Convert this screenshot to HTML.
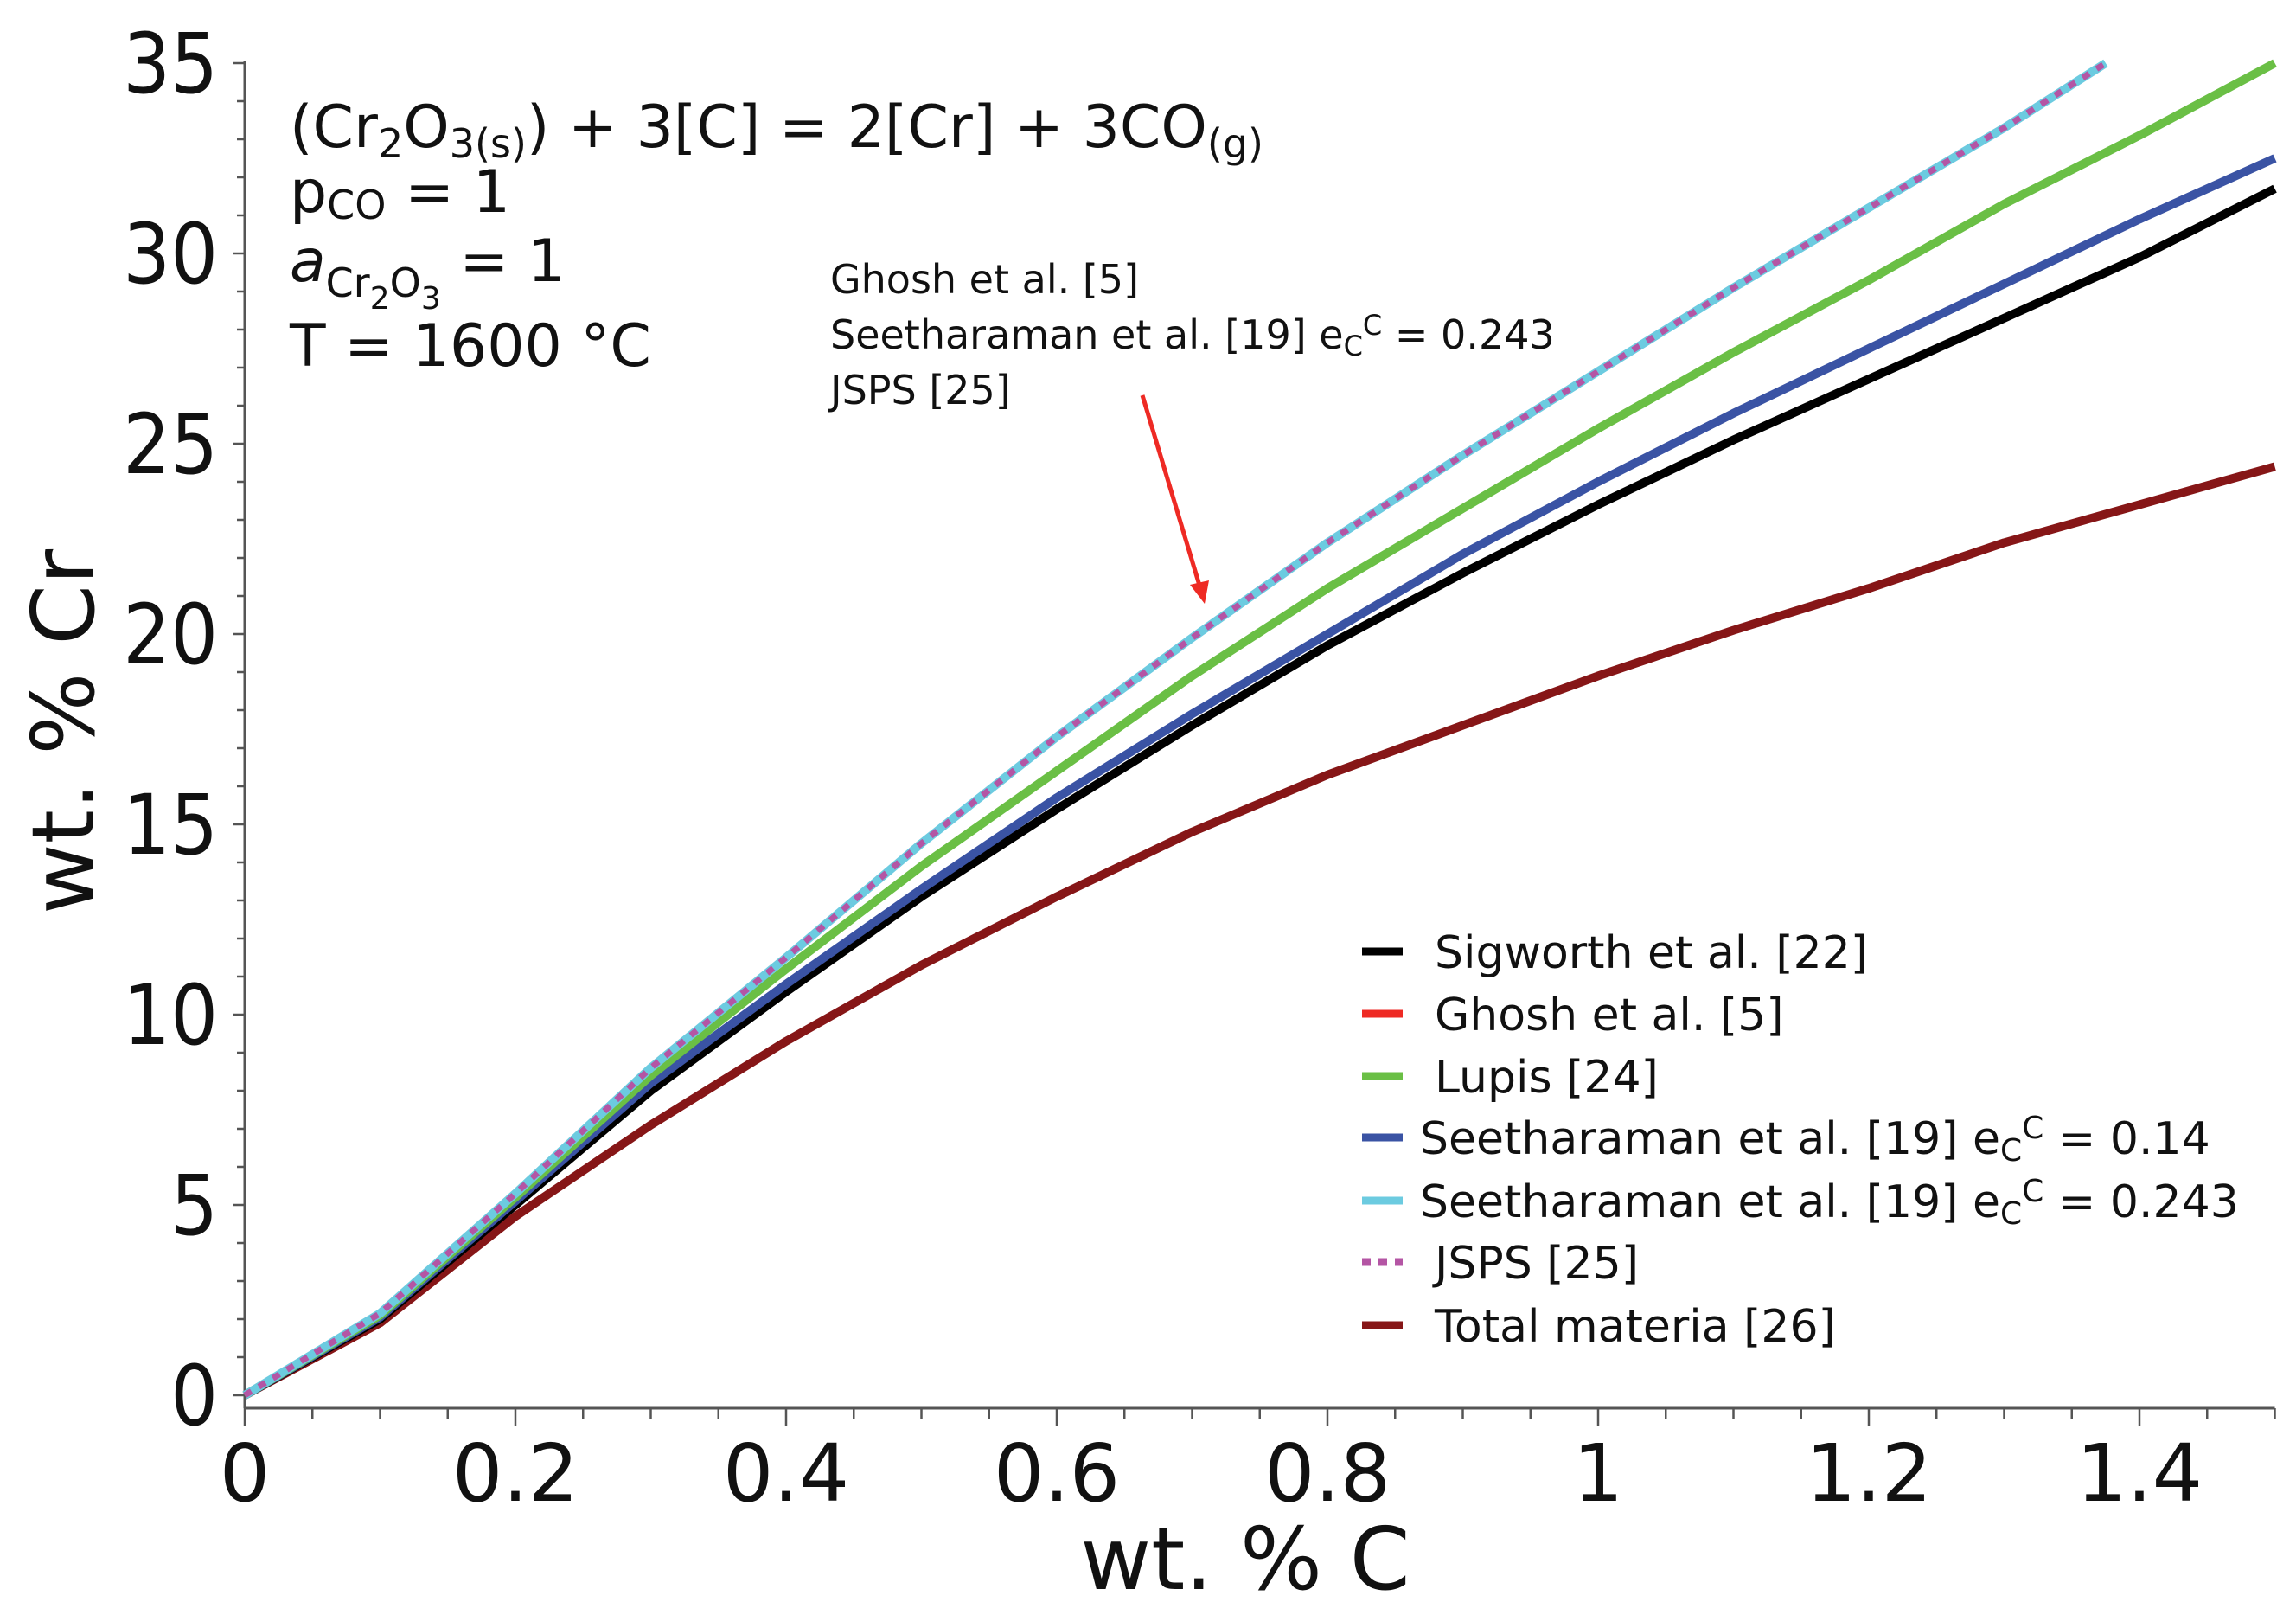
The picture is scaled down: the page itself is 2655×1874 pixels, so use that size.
<!DOCTYPE html>
<html><head><meta charset="utf-8"><style>
html,body{margin:0;padding:0;background:#fff;}
svg{display:block;}
text{font-family:"DejaVu Sans","Liberation Sans",sans-serif;fill:#111;}
</style></head><body>
<svg id="chart" width="2655" height="1874" viewBox="0 0 2655 1874" xmlns="http://www.w3.org/2000/svg">
<rect width="2655" height="1874" fill="#fff"/>
<g id="axes"></g>
<g id="series"></g>
<g font-size="68">
<text x="335" y="170">(Cr<tspan font-size="46" dy="12">2</tspan><tspan dy="-12">O</tspan><tspan font-size="46" dy="12">3(s)</tspan><tspan dy="-12">) + 3[C] = 2[Cr] + 3CO</tspan><tspan font-size="46" dy="12">(g)</tspan></text>
<text x="335" y="245">p<tspan font-size="46" dy="8">CO</tspan><tspan dy="-8"> = 1</tspan></text>
<text x="335" y="325"><tspan font-style="italic">a</tspan><tspan font-size="46" dy="18">Cr</tspan><tspan font-size="36" dy="14">2</tspan><tspan font-size="46" dy="-14">O</tspan><tspan font-size="36" dy="14">3</tspan><tspan dy="-32"> = 1</tspan></text>
<text x="335" y="423">T = 1600 °C</text>
</g>
<g font-size="46">
<text x="960" y="339">Ghosh et al. [5]</text>
<text x="960" y="403">Seetharaman et al. [19] e<tspan font-size="32" dy="8">C</tspan><tspan font-size="32" dy="-24">C</tspan><tspan dy="16"> = 0.243</tspan></text>
<text x="960" y="467">JSPS [25]</text>
<line x1="1321" y1="457" x2="1388" y2="680" stroke="#ee2a24" stroke-width="5"/>
<polygon points="1393,698 1376,676 1398,671" fill="#ee2a24"/>
</g>
<g id="legend" font-size="52"></g>
<text x="1440" y="1837" text-anchor="middle" font-size="100">wt. % C</text>
<text transform="translate(108,846) rotate(-90)" text-anchor="middle" font-size="100">wt. % Cr</text>
</svg>
<script>
const xTicks = [0, 0.2, 0.4, 0.6, 0.8, 1, 1.2, 1.4];
const xTickLabels = ["0", "0.2", "0.4", "0.6", "0.8", "1", "1.2", "1.4"];
const yTicks = [0, 5, 10, 15, 20, 25, 30, 35];
const yTickLabels = ["0", "5", "10", "15", "20", "25", "30", "35"];
const xFull = [0,0.1,0.2,0.3,0.4,0.5,0.6,0.7,0.8,0.9,1.0,1.1,1.2,1.3,1.4,1.5];
const xJsps = [0,0.1,0.2,0.3,0.4,0.5,0.6,0.7,0.8,0.9,1.0,1.1,1.2,1.3,1.375];
const sigworth = [0,2.0,5.0,8.0,10.6,13.1,15.4,17.6,19.7,21.6,23.4,25.1,26.7,28.3,29.9,31.7];
const seeth014 = [0,2.05,5.1,8.2,10.8,13.3,15.7,17.9,20.0,22.1,24.0,25.8,27.5,29.2,30.9,32.5];
const lupis = [0,2.1,5.2,8.4,11.2,13.9,16.4,18.9,21.2,23.3,25.4,27.4,29.3,31.3,33.1,35.0];
const seeth0243 = [0,2.15,5.3,8.6,11.5,14.5,17.3,19.9,22.4,24.7,26.9,29.1,31.2,33.3,35.0];
const totalMateria = [0,1.9,4.7,7.1,9.3,11.3,13.1,14.8,16.3,17.6,18.9,20.1,21.2,22.4,23.4,24.4];
const legendLabels = ["Sigworth et al. [22]","Ghosh et al. [5]","Lupis [24]","Seetharaman et al. [19] e","Seetharaman et al. [19] e","JSPS [25]","Total materia [26]"];

const NS = "http://www.w3.org/2000/svg";
const X0 = 283, XS = 1565;
const Y0 = 1613, YS = 44;
function sx(v){ return X0 + v * XS; }
function sy(v){ return Y0 - v * YS; }
function mk(tag, attrs, parent){ const e = document.createElementNS(NS, tag); for (const k in attrs) e.setAttribute(k, attrs[k]); parent.appendChild(e); return e; }

const axes = document.getElementById('axes');
const yAxisLine = mk('line', {x1:X0, y1:sy(35)-2, x2:X0, y2:1628, stroke:'#555', 'stroke-width':3}, axes);


const xAxisLine = mk('line', {x1:X0, y1:1628, x2:sx(1.5), y2:1628, stroke:'#555', 'stroke-width':3}, axes);


for (let i = 0; i <= 35; i++) {
  const major = i % 5 === 0;
  const t = mk('line', {x1:X0 - (major ? 14 : 9), y1:sy(i), x2:X0, y2:sy(i), stroke:'#555', 'stroke-width':2.5}, axes);
  
  
}
for (let i = 0; i <= 30; i++) {
  const v = i * 0.05;
  const major = i % 4 === 0;
  const t = mk('line', {x1:sx(v), y1:1628, x2:sx(v), y2:1628 + (major ? 20 : 12), stroke:'#555', 'stroke-width':2.5}, axes);
  
  
}
yTicks.forEach((v, i) => {
  const t = mk('text', {x:252, y:sy(v)+34, 'text-anchor':'end', 'font-size':96, style:'font-family:"DejaVu Sans Condensed","DejaVu Sans",sans-serif'}, axes);
  t.textContent = yTickLabels[i];
  
  
});
xTicks.forEach((v, i) => {
  const t = mk('text', {x:sx(v), y:1735, 'text-anchor':'middle', 'font-size':92}, axes);
  t.textContent = xTickLabels[i];
  
  
});

const series = document.getElementById('series');
function pts(xs, ys){ return xs.map((x, i) => sx(x).toFixed(1) + ',' + sy(ys[i]).toFixed(1)).join(' '); }
const sTotal = mk('polyline', {points:pts(xFull, totalMateria), fill:'none', stroke:'#861617', 'stroke-width':10, 'stroke-linejoin':'round'}, series);


const sSig = mk('polyline', {points:pts(xFull, sigworth), fill:'none', stroke:'#000', 'stroke-width':10, 'stroke-linejoin':'round'}, series);


const sBlue = mk('polyline', {points:pts(xFull, seeth014), fill:'none', stroke:'#3a53a4', 'stroke-width':10, 'stroke-linejoin':'round'}, series);


const sLupis = mk('polyline', {points:pts(xFull, lupis), fill:'none', stroke:'#6abf45', 'stroke-width':10, 'stroke-linejoin':'round'}, series);


const sCyan = mk('polyline', {points:pts(xJsps, seeth0243), fill:'none', stroke:'#6ccbe0', 'stroke-width':10, 'stroke-linejoin':'round'}, series);


const sJsps = mk('polyline', {points:pts(xJsps, seeth0243), fill:'none', stroke:'#b455a4', 'stroke-width':7, 'stroke-dasharray':'9 10'}, series);



const legend = document.getElementById('legend');
const legColors = ['#000','#ee2a24','#6abf45','#3a53a4','#6ccbe0','#b455a4','#861617'];
const legRows = [1100,1172,1244,1315,1388,1459,1532];
legendLabels.forEach((lab, i) => {
  const y = legRows[i];
  const l = mk('line', {x1:1575, y1:y, x2:1622, y2:y, stroke:legColors[i], 'stroke-width':9}, legend);
  if (i === 5) l.setAttribute('stroke-dasharray', '10 9');
  
  
  const tx = (i === 3 || i === 4) ? 1642 : 1659;
  const t = mk('text', {x:tx, y:y + 19}, legend);
  t.textContent = lab;
  if (i === 3 || i === 4) {
    const s1 = mk('tspan', {'font-size':36, dy:8}, t); s1.textContent = 'C';
    const s2 = mk('tspan', {'font-size':36, dy:-26}, t); s2.textContent = 'C';
    const s3 = mk('tspan', {dy:18}, t); s3.textContent = i === 3 ? ' = 0.14' : ' = 0.243';
  }
  
  
});
</script>
</body></html>
